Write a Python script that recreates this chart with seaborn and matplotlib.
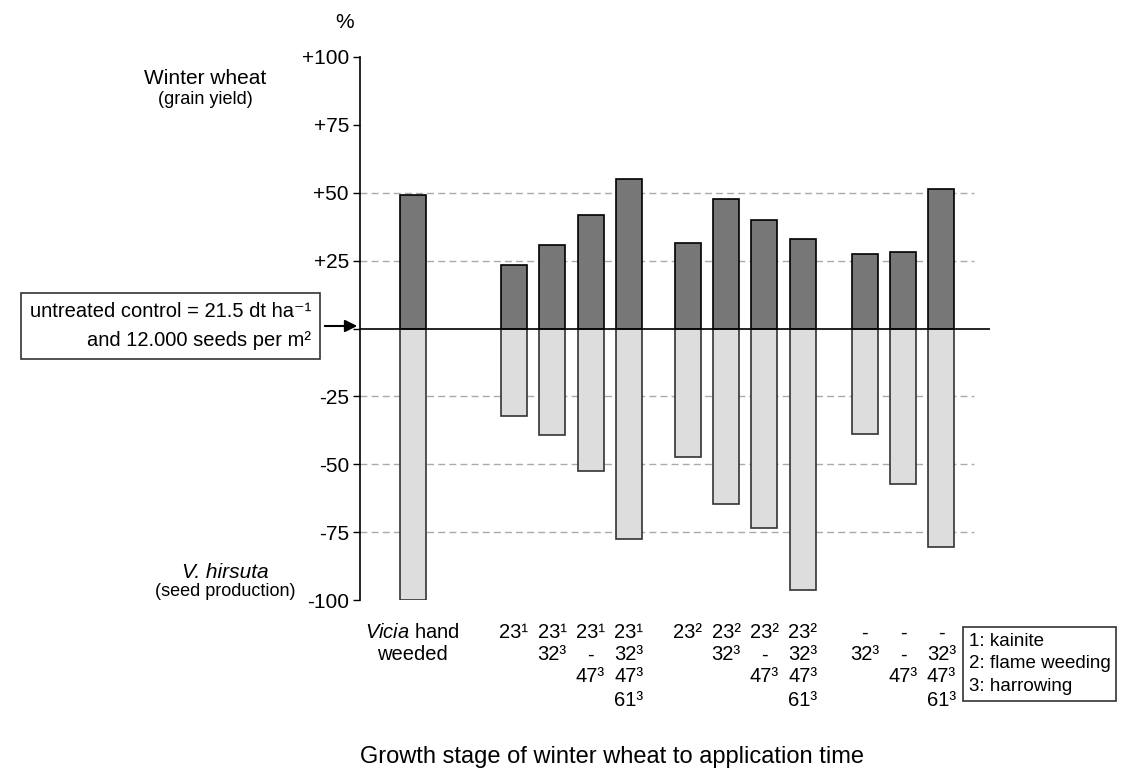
import matplotlib
matplotlib.use("Agg")
import matplotlib.pyplot as plt
import seaborn as sns
import pandas as pd

# values (% relative to untreated control)
treatments = ["Vicia", "A1", "A2", "A3", "A4", "B1", "B2", "B3", "B4", "C1", "C2", "C3"]
group = [0, 1, 1, 1, 1, 2, 2, 2, 2, 3, 3, 3]
wheat_yield = [49, 23.3, 30.6, 41.7, 54.9, 31.4, 47.8, 40.1, 33.1, 27.6, 28, 51.5]
seed_prod = [-100, -32.4, -39.4, -52.6, -77.7, -47.4, -64.6, -73.4, -96.4, -38.9, -57.3, -80.3]

stage_labels = [
    ["$\\it{Vicia}$ hand", "weeded"],
    ["23¹"],
    ["23¹", "32³"],
    ["23¹", "-", "47³"],
    ["23¹", "32³", "47³", "61³"],
    ["23²"],
    ["23²", "32³"],
    ["23²", "-", "47³"],
    ["23²", "32³", "47³", "61³"],
    ["-", "32³"],
    ["-", "-", "47³"],
    ["-", "32³", "47³", "61³"],
]
yticks = [-100, -75, -50, -25, 0, 25, 50, 75, 100]
ytick_labels = ["-100", "-75", "-50", "-25", "", "+25", "+50", "+75", "+100"]

sns.set_theme(style="white")
plt.rcParams["font.family"] = ["Liberation Sans", "DejaVu Sans"]
plt.rcParams["mathtext.fontset"] = "custom"
plt.rcParams["mathtext.rm"] = "Liberation Sans"
plt.rcParams["mathtext.it"] = "Liberation Sans:italic"
for k in ["text.color", "axes.labelcolor", "xtick.color", "ytick.color"]:
    plt.rcParams[k] = "black"

# x positions: extra space between the groups
gaps = {0: 0.0, 1: 1.64, 2: 2.18, 3: 2.8}
xpos = [i + gaps[g] for i, g in enumerate(group)]

df = pd.DataFrame({"x": xpos, "yield": wheat_yield, "seeds": seed_prod})

fig = plt.figure(figsize=(11.3, 7.75), dpi=100)
ax = fig.add_axes([360 / 1130, 175 / 775, 630 / 1130, 543 / 775])

for y in [-75, -50, -25, 25, 50]:
    ax.axhline(y, xmax=0.975, color="#aaaaaa", ls=(0, (5, 3)), lw=1, zorder=0)

sns.barplot(data=df, x="x", y="yield", native_scale=True, width=0.68,
            color="#777777", edgecolor="black", linewidth=1.2, saturation=1, ax=ax, zorder=2)
sns.barplot(data=df, x="x", y="seeds", native_scale=True, width=0.68,
            color="#dddddd", edgecolor="#333333", linewidth=1.2, saturation=1, ax=ax, zorder=2)

ax.axhline(0, color="black", lw=1.2, zorder=3)
ax.set_xlim(-1.38, 15.07)
ax.set_ylim(-100, 100)
ax.set_yticks(yticks)
ax.set_yticklabels(ytick_labels, fontsize=15)
ax.tick_params(axis="y", left=True, length=5, width=1, color="black", pad=3)
ax.set_xticks([])
ax.set_xlabel("")
ax.set_ylabel("")
for s in ["top", "right", "bottom"]:
    ax.spines[s].set_visible(False)
ax.spines["left"].set_color("black")
ax.spines["left"].set_linewidth(1.2)

fig.text(345 / 1130, 1 - 22 / 775, "%", fontsize=15, ha="center", va="center")
fig.text(205 / 1130, 1 - 78 / 775, "Winter wheat", fontsize=15, ha="center", va="center")
fig.text(205 / 1130, 1 - 99 / 775, "(grain yield)", fontsize=13, ha="center", va="center")
fig.text(225 / 1130, 1 - 572 / 775, "V. hirsuta", fontsize=15, style="italic", ha="center", va="center")
fig.text(225 / 1130, 1 - 592 / 775, "(seed production)", fontsize=13, ha="center", va="center")

# control box with arrow to the zero line
fig.text(311 / 1130, 1 - 326 / 775,
         "untreated control = 21.5 dt ha⁻¹\nand 12.000 seeds per m²",
         fontsize=14.5, ha="right", va="center", multialignment="right", linespacing=1.65,
         bbox=dict(boxstyle="square,pad=0.45", fc="white", ec="#333333", lw=1.2))
ax.annotate("", xy=(360 / 1130, 1 - 326 / 775), xytext=(322 / 1130, 1 - 326 / 775),
            xycoords="figure fraction", textcoords="figure fraction",
            arrowprops=dict(arrowstyle="-|>", color="black", lw=1.5, mutation_scale=18),
            annotation_clip=False)

# application stage labels under each bar
row_y = [633, 655, 677, 700]
trans = matplotlib.transforms.blended_transform_factory(ax.transData, fig.transFigure)
for x, labs in zip(xpos, stage_labels):
    for r, lab in enumerate(labs):
        ax.text(x, 1 - row_y[r] / 775, lab, transform=trans, fontsize=14.5,
                ha="center", va="center", clip_on=False)

fig.text(969 / 1130, 1 - 664 / 775, "1: kainite\n2: flame weeding\n3: harrowing",
         fontsize=13.5, ha="left", va="center", linespacing=1.45,
         bbox=dict(boxstyle="square,pad=0.3", fc="white", ec="#333333", lw=1.2))

fig.text(612 / 1130, 1 - 757 / 775, "Growth stage of winter wheat to application time",
         fontsize=17, ha="center", va="center")

fig.savefig("out.png", dpi=100)
